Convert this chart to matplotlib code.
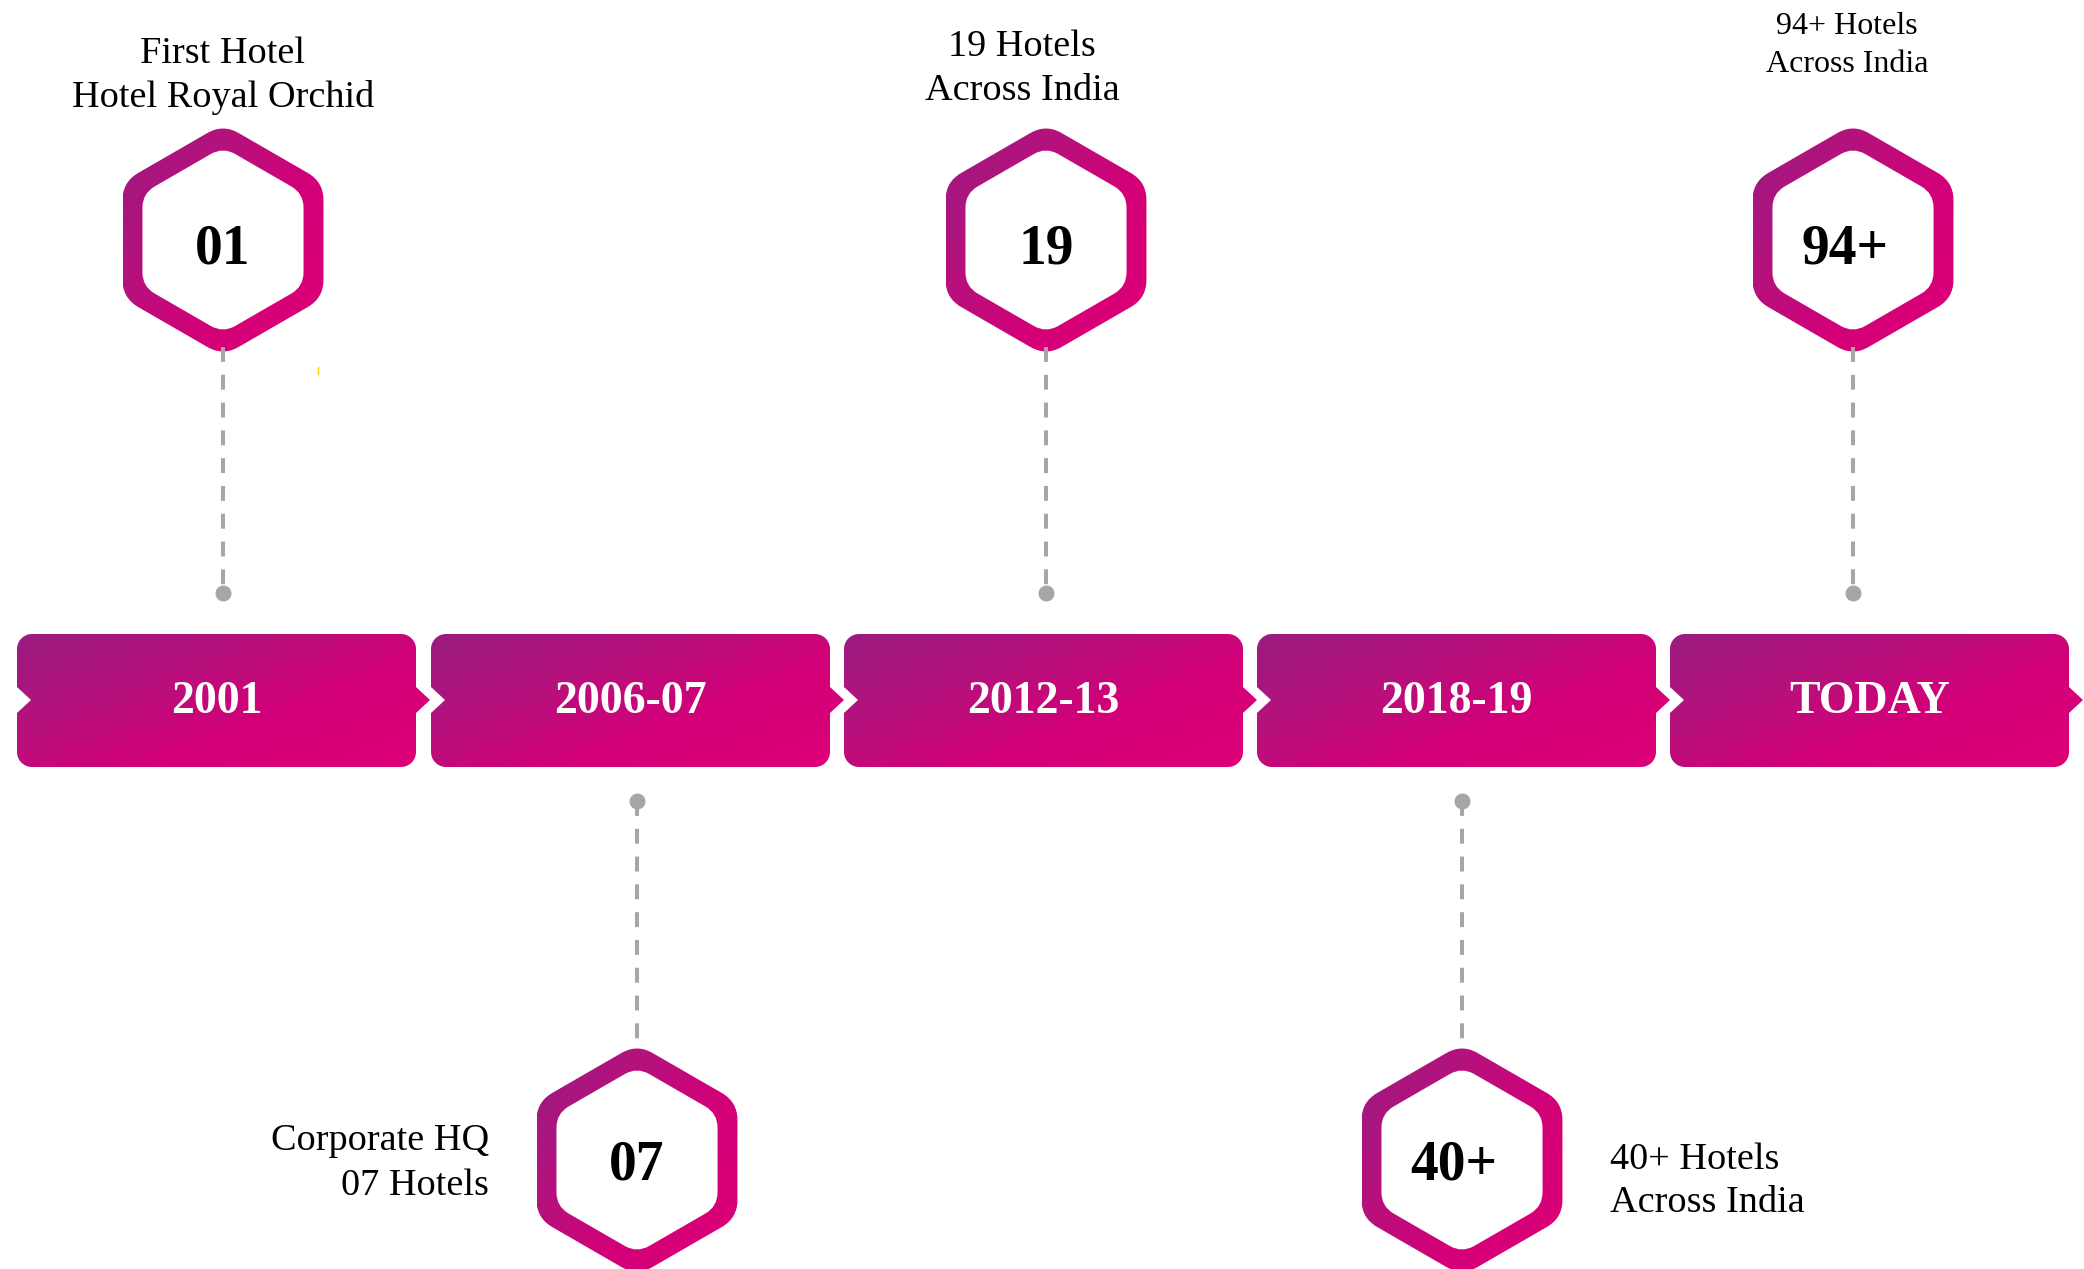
import numpy as np
import matplotlib.pyplot as plt
from matplotlib.path import Path
from matplotlib.patches import PathPatch
from matplotlib.colors import LinearSegmentedColormap

# timeline content
years = ['2001', '2006-07', '2012-13', '2018-19', 'TODAY']
counts = ['01', '07', '19', '40+', '94+']
notes = ['First Hotel\nHotel Royal Orchid',
         'Corporate HQ\n07 Hotels',
         '19 Hotels\nAcross India',
         '40+ Hotels\nAcross India',
         '94+ Hotels\nAcross India']
sides = ['top', 'bottom', 'top', 'bottom', 'top']

# layout (pixels)
W, H = 2084, 1269
banner_left = [17, 431, 844, 1257, 1670]
banner_w, banner_top, banner_bot = 399, 634, 767
hex_x = [223, 637, 1046, 1462, 1853]
note_pos = [(223, 63, 'center', 27.5, 44),
            (489, 1150, 'right', 27.5, 45),
            (1022, 56, 'center', 27.5, 44),
            (1610, 1169, 'left', 27.5, 43),
            (1847, 34, 'center', 23, 38)]
num_base = {'top': 263, 'bottom': 1180}
hex_y = {'top': 240, 'bottom': 1160}

cmap = LinearSegmentedColormap.from_list(
    'rg', [(0, '#9A1C80'), (0.35, '#B8107C'), (0.62, '#D30078'), (1, '#DE0077')])
grey = '#A6A6A6'
serif = 'Liberation Serif'

fig = plt.figure(figsize=(W / 100, H / 100), dpi=100)
ax = fig.add_axes([0, 0, 1, 1])
ax.axis('off')


def rounded(verts, r):
    pts, codes = [], []
    n = len(verts)
    for i in range(n):
        p = np.array(verts[i], float)
        pv = np.array(verts[i - 1], float)
        nx = np.array(verts[(i + 1) % n], float)
        a = p + (pv - p) / np.linalg.norm(pv - p) * r
        b = p + (nx - p) / np.linalg.norm(nx - p) * r
        pts.append(a)
        codes.append(Path.MOVETO if i == 0 else Path.LINETO)
        pts += [p, b]
        codes += [Path.CURVE3, Path.CURVE3]
    pts.append(pts[0])
    codes.append(Path.CLOSEPOLY)
    return pts, codes


def gradient_fill(path):
    x0, y0 = path.vertices.min(axis=0)
    x1, y1 = path.vertices.max(axis=0)
    X, Y = np.meshgrid(np.linspace(0, 1, 200), np.linspace(0, 1, 200))
    t = 0.55 * X + 0.45 * Y
    patch = PathPatch(path, facecolor='none', edgecolor='none')
    ax.add_patch(patch)
    im = ax.imshow(t, cmap=cmap, vmin=0, vmax=1, extent=(x0, x1, y1, y0),
                   origin='upper', interpolation='bilinear')
    im.set_clip_path(patch)


def hexagon(cx, cy, R, r):
    ang = np.radians(90 + 60 * np.arange(6))
    return [(cx + R * np.cos(a), cy - R * np.sin(a)) for a in ang]


# banners
for i, (x0, year) in enumerate(zip(banner_left, years)):
    x1 = x0 + banner_w
    y0, y1, yc, r, d, h = banner_top, banner_bot, 700, 15, 14, 13
    k = 0.55 * r
    verts = [(x0 + r, y0), (x1 - r, y0),
             (x1 - r + k, y0), (x1, y0 + r - k), (x1, y0 + r),
             (x1, yc - h), (x1 + d, yc), (x1, yc + h), (x1, y1 - r),
             (x1, y1 - r + k), (x1 - r + k, y1), (x1 - r, y1),
             (x0 + r, y1),
             (x0 + r - k, y1), (x0, y1 - r + k), (x0, y1 - r),
             (x0, yc + h), (x0 + d, yc), (x0, yc - h), (x0, y0 + r),
             (x0, y0 + r - k), (x0 + r - k, y0), (x0 + r, y0), (x0 + r, y0)]
    codes = [Path.MOVETO, Path.LINETO,
             Path.CURVE4, Path.CURVE4, Path.CURVE4,
             Path.LINETO, Path.LINETO, Path.LINETO, Path.LINETO,
             Path.CURVE4, Path.CURVE4, Path.CURVE4,
             Path.LINETO,
             Path.CURVE4, Path.CURVE4, Path.CURVE4,
             Path.LINETO, Path.LINETO, Path.LINETO, Path.LINETO,
             Path.CURVE4, Path.CURVE4, Path.CURVE4, Path.CLOSEPOLY]
    gradient_fill(Path(verts, codes))
    ax.text(x0 + banner_w / 2, 713, year, color='white', fontsize=33,
            fontweight='bold', family=serif, ha='center', va='baseline')

# hexagons, connectors and notes
for i in range(len(years)):
    cx, side = hex_x[i], sides[i]
    cy = hex_y[side]
    ov, oc = rounded(hexagon(cx, cy, 116, 18), 18)
    iv, ic = rounded(hexagon(cx, cy, 93, 14)[::-1], 14)
    gradient_fill(Path(ov + iv, oc + ic))
    txt = counts[i]
    dx = -8 if '+' in txt else 0
    ax.text(cx + dx, num_base[side], txt, fontsize=40, fontweight='bold',
            family=serif, ha='center', va='baseline', color='black')

    if side == 'top':
        ya, yb = cy + 107, 593
    else:
        ya, yb = 801, cy - 113
    ax.plot([cx, cx], [ya, yb], color=grey, lw=2.9, dashes=(3.7, 3.2),
            solid_capstyle='butt', dash_capstyle='butt')
    ax.plot(cx, 593 if side == 'top' else 801, 'o', ms=11.5, color=grey,
            mec='none')

    nx, nb, ha, fs, gap = note_pos[i]
    for j, line in enumerate(notes[i].split('\n')):
        ax.text(nx, nb + j * gap, line, fontsize=fs, family=serif,
                ha=ha, va='baseline', color='black')

# small stray mark in the original artwork
ax.plot([318, 318], [367, 374], color='#FFD000', lw=1)

ax.set_xlim(0, W)
ax.set_ylim(H, 0)
ax.set_aspect('auto')
fig.savefig('out.png', dpi=100, facecolor='white')
